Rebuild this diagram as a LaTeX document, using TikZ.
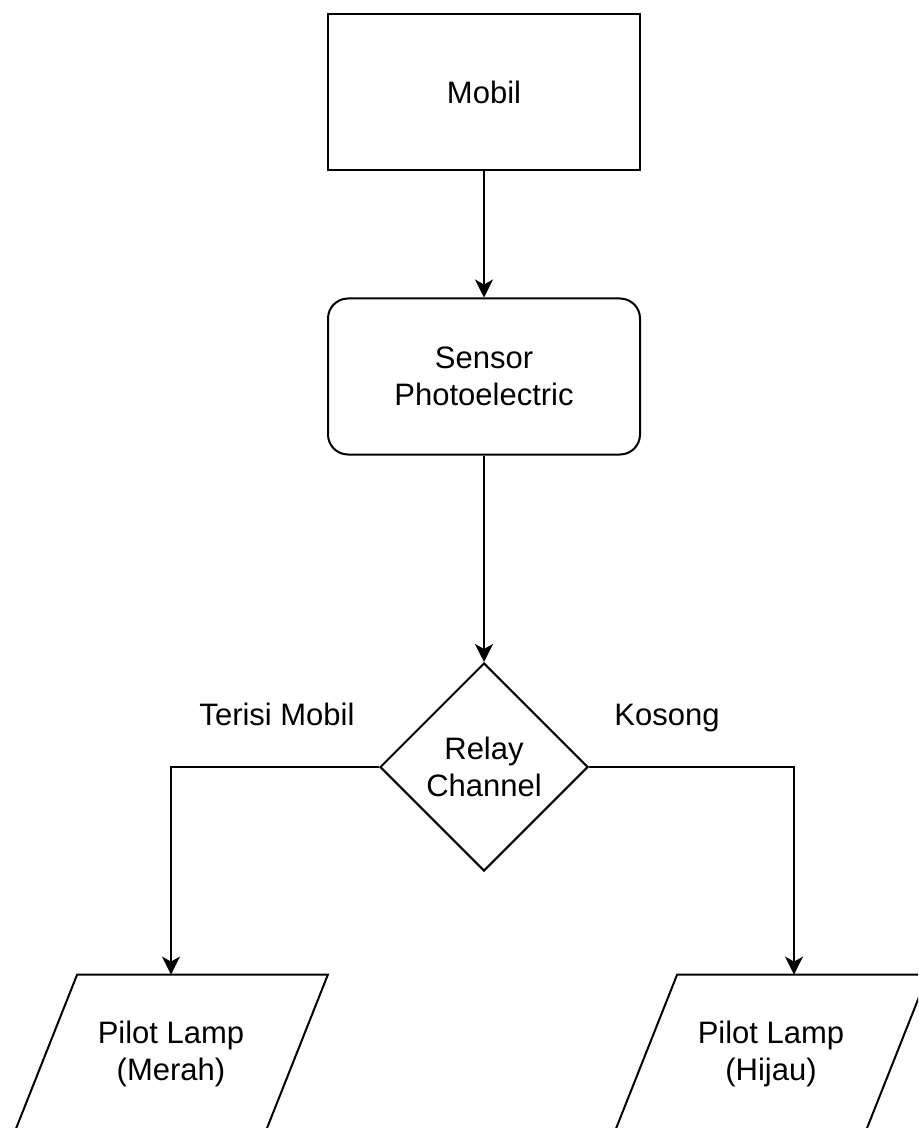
\documentclass[tikz,border=0pt]{standalone}
\usepackage{fontspec}
\setmainfont{Liberation Sans}
\usetikzlibrary{arrows.meta,shapes.geometric}
\begin{document}
\begin{tikzpicture}[x=0.5pt,y=-0.5pt,>={Stealth[length=9pt,width=9pt,inset=2.5pt]},
box/.style={draw,line width=1pt,minimum width=156pt,minimum height=78pt,align=center,inner sep=0pt},
lamp/.style={minimum width=125pt,minimum height=79pt,align=center,inner sep=0pt},
line/.style={->,line width=1pt},
font=\fontsize{15.5}{18.5}\selectfont]
\useasboundingbox (0,0) rectangle (918,1128);
\clip (0,0) rectangle (918,1128);
\node[box] (mobil) at (484,92) {Mobil};
\node[box,rounded corners=10pt] (sensor) at (484,376.5) {Sensor\\Photoelectric};
\node[draw,line width=1pt,diamond,minimum width=104pt,minimum height=104pt,inner sep=0pt,align=center] (relay) at (484,767) {Relay\\Channel};
\node[lamp] (merah) at (171,1054) {Pilot Lamp\\(Merah)};
\node[lamp] (hijau) at (771,1054) {Pilot Lamp\\(Hijau)};
\foreach \l in {merah,hijau}
\draw[line width=1pt]([xshift=15.75pt]\l.north west)--([xshift=15.75pt]\l.north east)
--([xshift=-15.75pt]\l.south east)--([xshift=-15.75pt]\l.south west)--cycle;
\draw[line] (mobil)--(sensor);
\draw[line] (sensor)--(relay);
\draw[line] (relay.west)-|(merah.north);
\draw[line] (relay.east)-|([xshift=11.5pt]hijau.north);
\node[anchor=base] (terisi) at (277,725) {Terisi Mobil};
\node[anchor=base] (kosong) at (667,725) {Kosong};
\end{tikzpicture}
\end{document}
